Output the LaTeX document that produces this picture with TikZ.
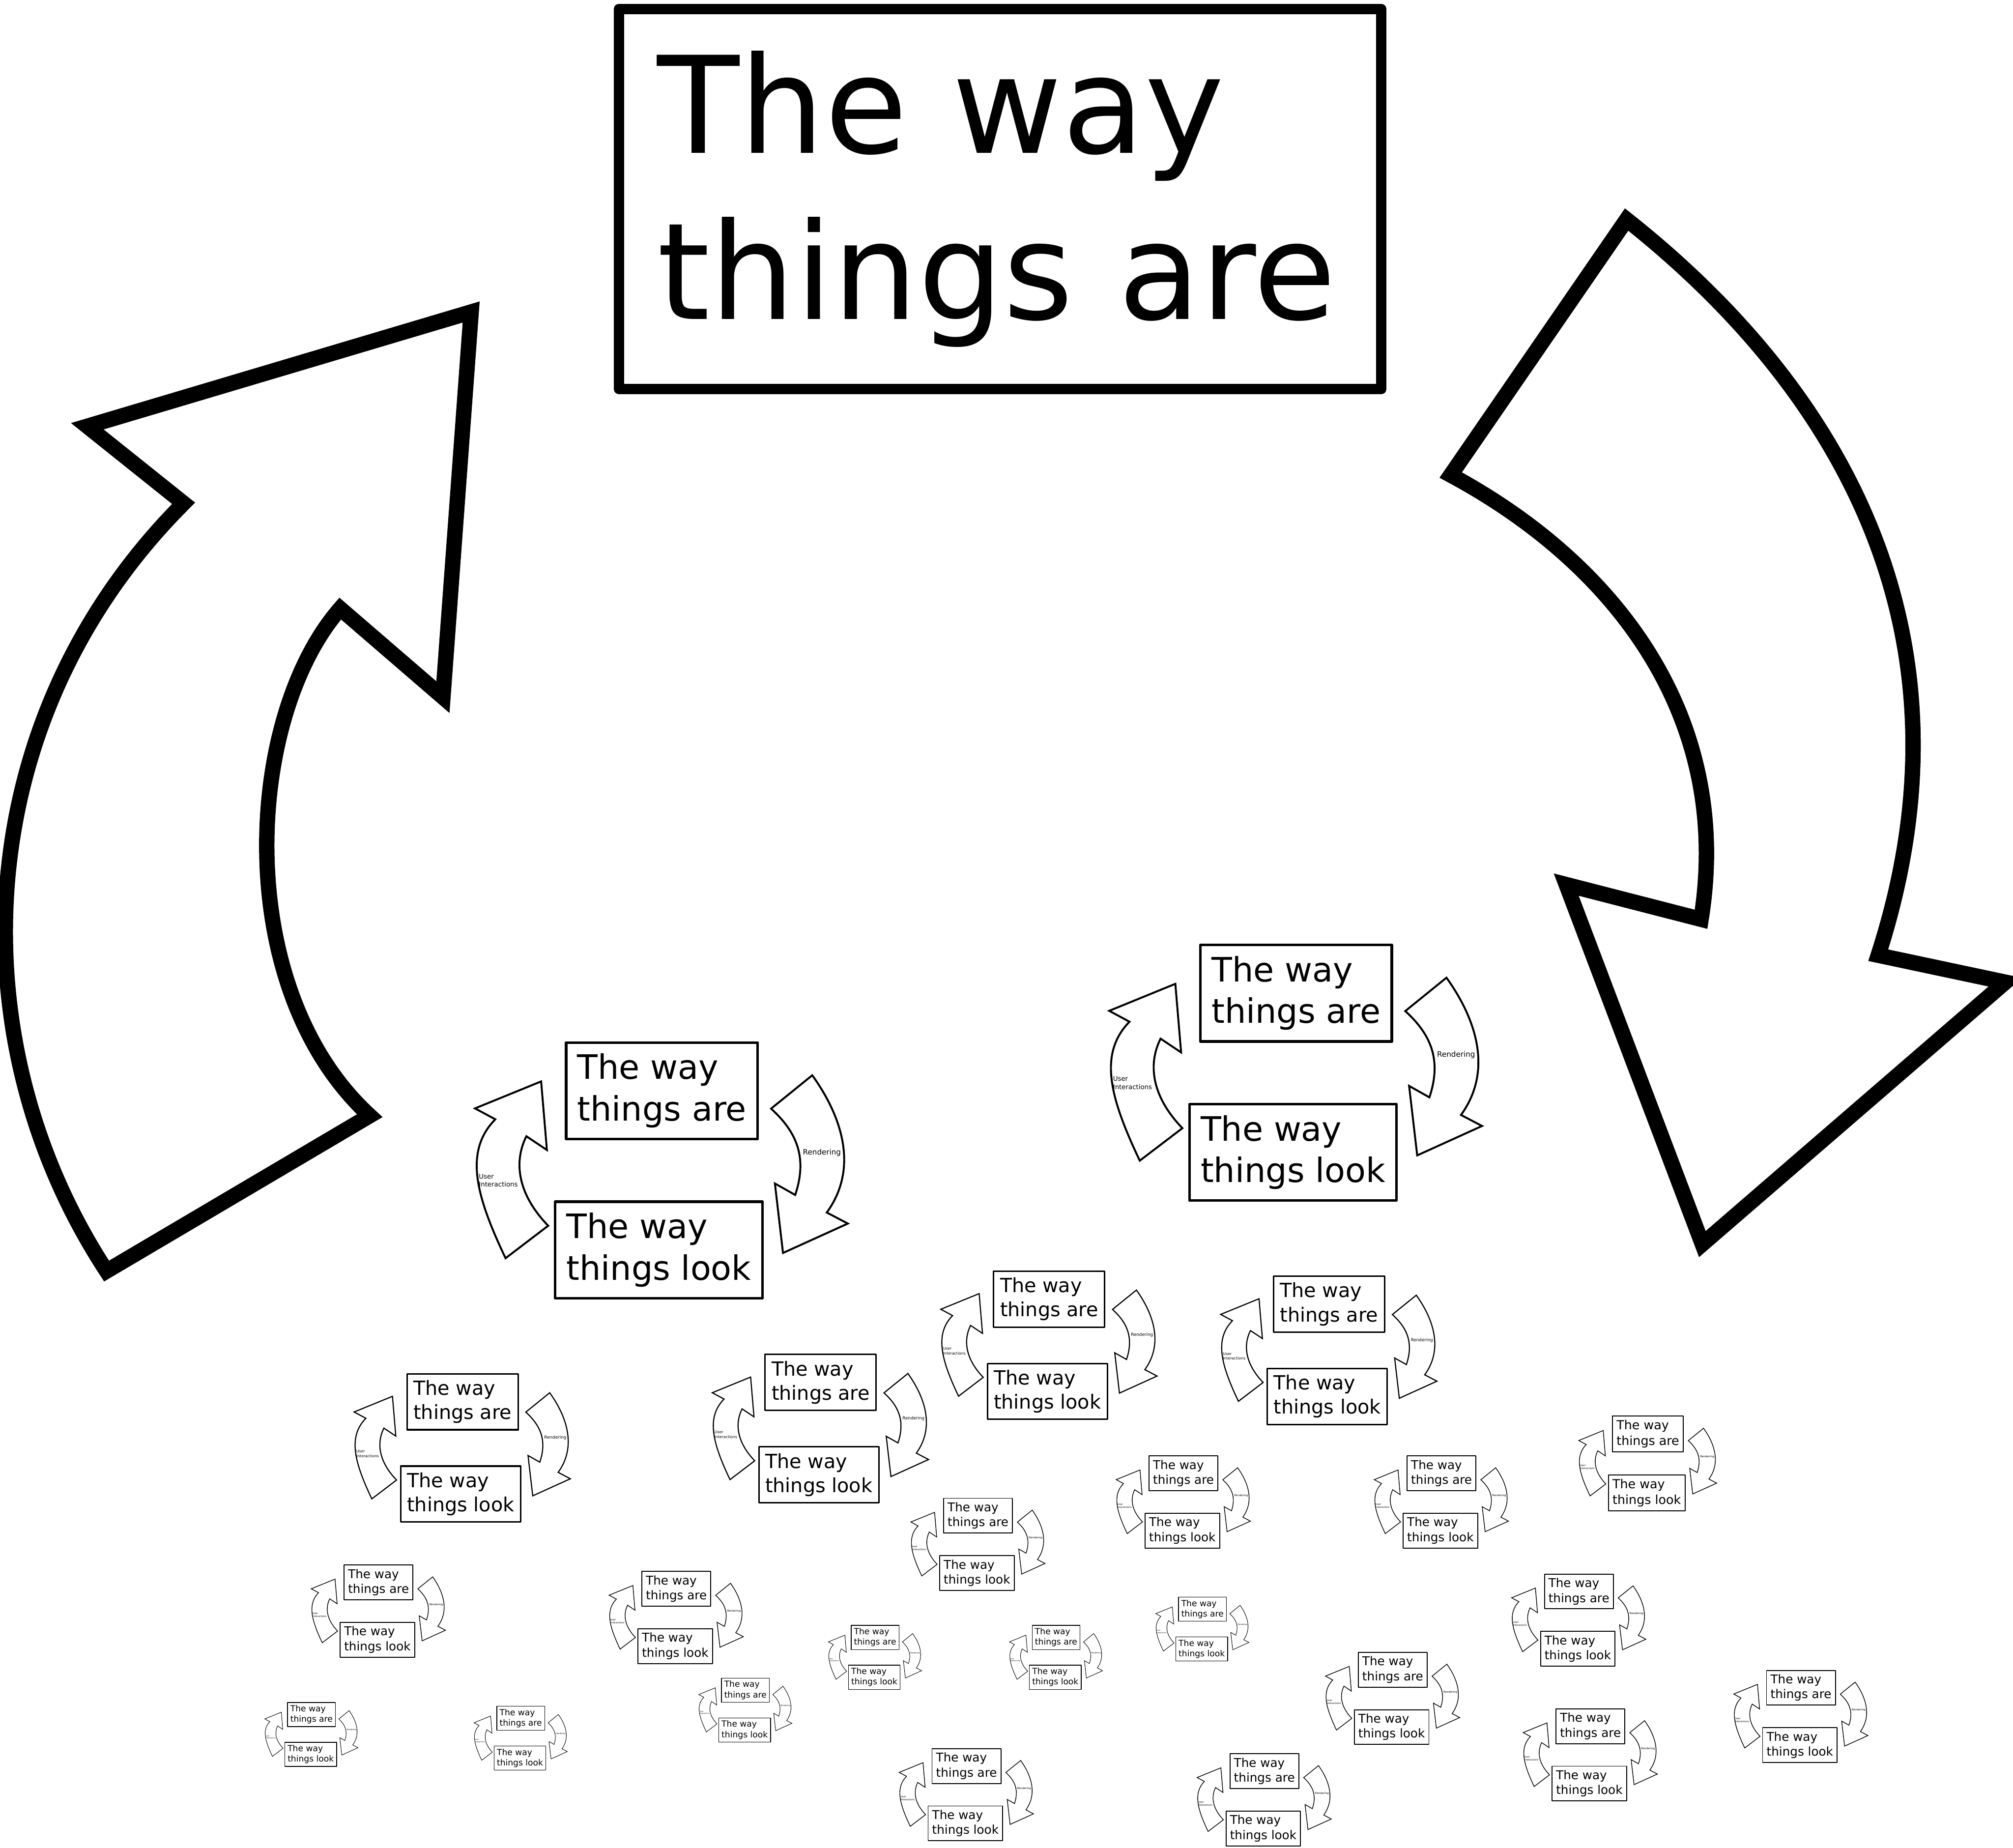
\documentclass[tikz,border=0pt]{standalone}
\usepackage{fontspec}
\setmainfont{DejaVu Sans}
\tikzset{
  boxn/.style={draw, fill=white, line join=round, align=left, inner sep=8.7pt, outer sep=0pt,
    font=\fontsize{26.2}{32.4}\selectfont},
  arrshape/.style={draw, fill=white, line join=miter},
  smalllbl/.style={inner sep=0pt, outer sep=0pt, align=left, anchor=north west},
  bigarrow/.style={draw, fill=white, line join=miter, line width=12pt},
  bigbox/.style={draw, fill=white, line join=round, line width=8pt, outer sep=0pt, inner sep=0pt,
    minimum width=594pt, minimum height=296pt, text width=534pt, align=left,
    font=\fontsize{104.8}{129.6}\selectfont},
}
\newcommand\minidiag[4]{%
\begin{scope}[shift={(#2,#3)}, scale=#4, transform shape]
\pgfmathsetmacro\mdlwb{2*#4}
\pgfmathsetmacro\mdlwa{1.5*#4}
\draw[arrshape, line width=\mdlwa pt]
  (-47.2,168) .. controls (-70,120) and (-80,85) .. (-55.2,59.8)
  -- (-71,51.3) -- (-19.5,30.3) -- (-15,83.7) -- (-31,73)
  .. controls (-42,95) and (-36,120) .. (-14,142.7)
  -- cycle;
\draw[arrshape, line width=\mdlwa pt]
  (191.7,25.5) .. controls (215,58) and (228,98) .. (203,132.4)
  -- (219.4,141) -- (168.9,163.9) -- (162.6,109.8) -- (178.4,118.7)
  .. controls (188,90) and (180,70) .. (159.6,51.5)
  -- cycle;
\node[boxn, line width=\mdlwb pt, anchor=north west] (are#1) at (0,0) {The way\\things are};
\node[boxn, line width=\mdlwb pt, anchor=north west] (look#1) at (-8.5,124) {The way\\things look};
\node[smalllbl, font=\fontsize{5.1}{6.4}\selectfont] (ui#1) at (-68,102.3) {User\\Interactions};
\node[smalllbl, font=\fontsize{5.8}{7}\selectfont] (rd#1) at (184.4,83) {Rendering};
\end{scope}}
\begin{document}
\begin{tikzpicture}[x=1pt, y=-1pt]
\useasboundingbox (0,0) rectangle (1568,1439);
% big left arrow
\draw[bigarrow]
  (83,990) .. controls (-35,810) and (-25,560) .. (143,392)
  -- (68,332) -- (367,243) -- (345,543) -- (265,474)
  .. controls (190,560) and (180,770) .. (288,869)
  -- cycle;
% big right arrow
\draw[bigarrow]
  (1267,171) .. controls (1430,300) and (1545,490) .. (1463,744)
  -- (1562,765) -- (1326,969) -- (1220,689) -- (1325,716)
  .. controls (1350,560) and (1260,440) .. (1130,370)
  -- cycle;
% big title box
\node[bigbox, anchor=north west] (title) at (482,7) {\mbox{The way}\\\mbox{things are}};
% mini diagrams
\minidiag{1}{935}{736}{1}
\minidiag{2}{441}{812}{1}
\minidiag{3}{774}{990}{0.58}
\minidiag{4}{992}{994}{0.58}
\minidiag{5}{596}{1055}{0.58}
\minidiag{6}{317}{1070}{0.58}
\minidiag{7}{1256}{1103}{0.37}
\minidiag{8}{895}{1134}{0.36}
\minidiag{9}{1096}{1134}{0.36}
\minidiag{10}{735}{1167}{0.36}
\minidiag{11}{268}{1219}{0.36}
\minidiag{12}{1203}{1226}{0.36}
\minidiag{13}{500}{1224}{0.36}
\minidiag{14}{663}{1266}{0.25}
\minidiag{15}{804}{1266}{0.25}
\minidiag{16}{918}{1244}{0.25}
\minidiag{17}{1058}{1287}{0.36}
\minidiag{18}{1376}{1301}{0.36}
\minidiag{19}{1212}{1331}{0.36}
\minidiag{20}{562}{1307}{0.25}
\minidiag{21}{224}{1326}{0.25}
\minidiag{22}{387}{1329}{0.25}
\minidiag{23}{726}{1362}{0.36}
\minidiag{24}{958}{1366}{0.36}
\end{tikzpicture}
\end{document}
